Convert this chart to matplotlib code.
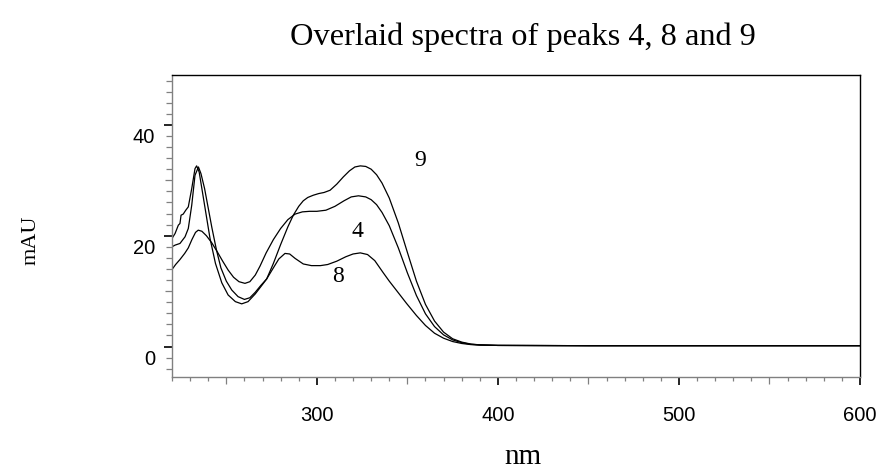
import matplotlib
matplotlib.use("Agg")
import matplotlib.pyplot as plt
import matplotlib.transforms as mtransforms
from matplotlib.ticker import MultipleLocator

# datos (nm, mAU)
nm_9 = [220, 221.7, 223.5, 224.4, 225, 226.2, 227.6, 229, 230.9, 232.7, 233.6, 235, 236.5, 238.5,
        241, 244, 247.5, 251, 255, 258.5, 262, 266, 270, 272.3, 276, 280, 284, 287, 290, 292.5,
        295, 298, 301, 304, 307.3, 311, 314.6, 318, 321, 324, 327, 330, 333, 336, 340, 345, 350,
        355, 360, 365, 370, 375, 380, 385, 390, 400, 450, 500, 550, 600]
mau_9 = [19.5, 20.4, 21.9, 22.2, 23.7, 23.9, 24.6, 25.2, 28.5, 32.1, 32.6, 31.5, 28.5, 24.5,
         19.5, 15.0, 11.5, 9.3, 8.1, 7.7, 8.1, 9.5, 11.2, 12.2, 15.0, 18.4, 21.6, 23.7, 25.3, 26.3,
         26.9, 27.3, 27.6, 27.8, 28.2, 29.3, 30.6, 31.7, 32.4, 32.6, 32.5, 32.0, 31.0, 29.5, 26.8,
         22.3, 17.0, 11.8, 7.6, 4.6, 2.6, 1.4, 0.8, 0.45, 0.3, 0.2, 0.15, 0.15, 0.15, 0.15]

nm_8 = [220, 221.7, 224.4, 227.2, 229, 230.9, 232.7, 234.6, 236, 238, 240, 242, 244.5, 247, 250,
        253, 256.5, 260, 263, 266, 269, 272.3, 276, 279, 282.4, 285, 288, 292.5, 297, 302, 306,
        311, 316, 320, 324, 328, 332, 336.7, 340, 345, 349.5, 355, 360, 365, 370, 375, 380, 385,
        390, 400, 450, 500, 550, 600]
mau_8 = [18.0, 18.3, 18.6, 19.8, 21.3, 25.5, 30.9, 32.4, 31.2, 28.5, 25.0, 21.5, 17.5, 14.2, 11.8,
         10.2, 9.0, 8.5, 8.8, 9.8, 11.0, 12.2, 14.2, 15.8, 16.8, 16.7, 15.9, 14.9, 14.6, 14.6, 14.8,
         15.4, 16.2, 16.7, 16.9, 16.6, 15.5, 13.3, 11.8, 9.7, 7.8, 5.6, 3.8, 2.4, 1.5, 0.9, 0.55,
         0.35, 0.25, 0.2, 0.15, 0.15, 0.15, 0.15]

nm_4 = [220, 222, 224.4, 227, 229, 231, 233, 234.5, 236.5, 239, 242, 245, 248, 251, 254, 257,
        260.3, 263, 266, 268.6, 272, 276, 280, 284, 288, 292, 296, 300, 305, 310, 315, 319, 323,
        327, 330, 333, 336, 340, 345, 350, 355, 360, 365, 370, 375, 380, 385, 390, 400, 450, 500,
        550, 600]
mau_4 = [13.9, 14.8, 15.7, 16.8, 17.8, 19.3, 20.6, 21.0, 20.8, 20.0, 18.7, 17.1, 15.4, 13.8, 12.5,
         11.7, 11.4, 11.7, 12.9, 14.5, 16.9, 19.3, 21.3, 22.9, 23.9, 24.3, 24.4, 24.4, 24.6, 25.3,
         26.3, 27.0, 27.2, 27.0, 26.5, 25.6, 24.2, 21.8, 17.8, 13.3, 9.2, 5.9, 3.6, 2.1, 1.2, 0.7,
         0.4, 0.3, 0.2, 0.15, 0.15, 0.15, 0.15]

# etiquetas de los picos (texto, nm, mAU)
pico_txt = ["9", "4", "8"]
pico_x = [357, 322.2, 311.7]
pico_y = [33.5, 20.7, 12.7]

serif = "Liberation Serif"
sans = "Liberation Sans"
gris = "#808080"

fig = plt.figure(figsize=(8.8, 4.72), dpi=100)
ax = fig.add_axes([172/880, 95/472, 688/880, 302/472])

for x, y in [(nm_9, mau_9), (nm_8, mau_8), (nm_4, mau_4)]:
    ax.plot(x, y, color="black", lw=0.9)

for t, x, y in zip(pico_txt, pico_x, pico_y):
    ax.text(x, y, t, fontsize=17, family=serif, ha="center", va="center")

ax.set_xlim(220, 600)
ax.set_ylim(-5.5, 49)

ax.xaxis.set_major_locator(MultipleLocator(100))
ax.xaxis.set_minor_locator(MultipleLocator(10))
ax.yaxis.set_major_locator(MultipleLocator(20))
ax.yaxis.set_minor_locator(MultipleLocator(2))

ax.spines["left"].set_color(gris)
ax.spines["bottom"].set_color(gris)
ax.spines["top"].set_color("black")
ax.spines["right"].set_color("black")
for s in ax.spines.values():
    s.set_linewidth(1.0)

# longitudes en puntos (8 px ~ 5.8 pt)
ax.tick_params(which="major", direction="out", length=5.8, width=1.2, color="black",
               labelsize=14.5, top=False, right=False)
ax.tick_params(which="minor", direction="out", length=3.2, width=0.9, color=gris,
               top=False, right=False)
ax.tick_params(axis="y", which="minor", length=4)
ax.tick_params(axis="x", which="major", pad=15)
ax.tick_params(axis="y", which="major", pad=6.5)

for lab in ax.get_xticklabels() + ax.get_yticklabels():
    lab.set_family(sans)

# ticks intermedios (cada 50 nm y cada 10 mAU) mas largos
for tick, loc in zip(ax.xaxis.get_minor_ticks(), ax.xaxis.get_minorticklocs()):
    if round(loc) % 50 == 0:
        tick.tick1line.set_markersize(5.2)
for tick, loc in zip(ax.yaxis.get_minor_ticks(), ax.yaxis.get_minorticklocs()):
    if round(loc) % 10 == 0:
        tick.tick1line.set_markersize(5.2)

# en el original los numeros del eje y quedan un poco por debajo del tick
desp = mtransforms.ScaledTranslation(0, -11/100, fig.dpi_scale_trans)
for lab in ax.get_yticklabels():
    lab.set_transform(lab.get_transform() + desp)

fig.text(523/880, 1 - 37/472, "Overlaid spectra of peaks 4, 8 and 9", fontsize=23.3,
         family=serif, ha="center", va="center")
fig.text(523/880, 1 - 457/472, "nm", fontsize=21, family=serif, ha="center", va="center")
fig.text(31/880, 1 - 240/472, "mAU", fontsize=16, family=serif, ha="center", va="center",
         rotation=90)

fig.savefig("out.png", dpi=100)
